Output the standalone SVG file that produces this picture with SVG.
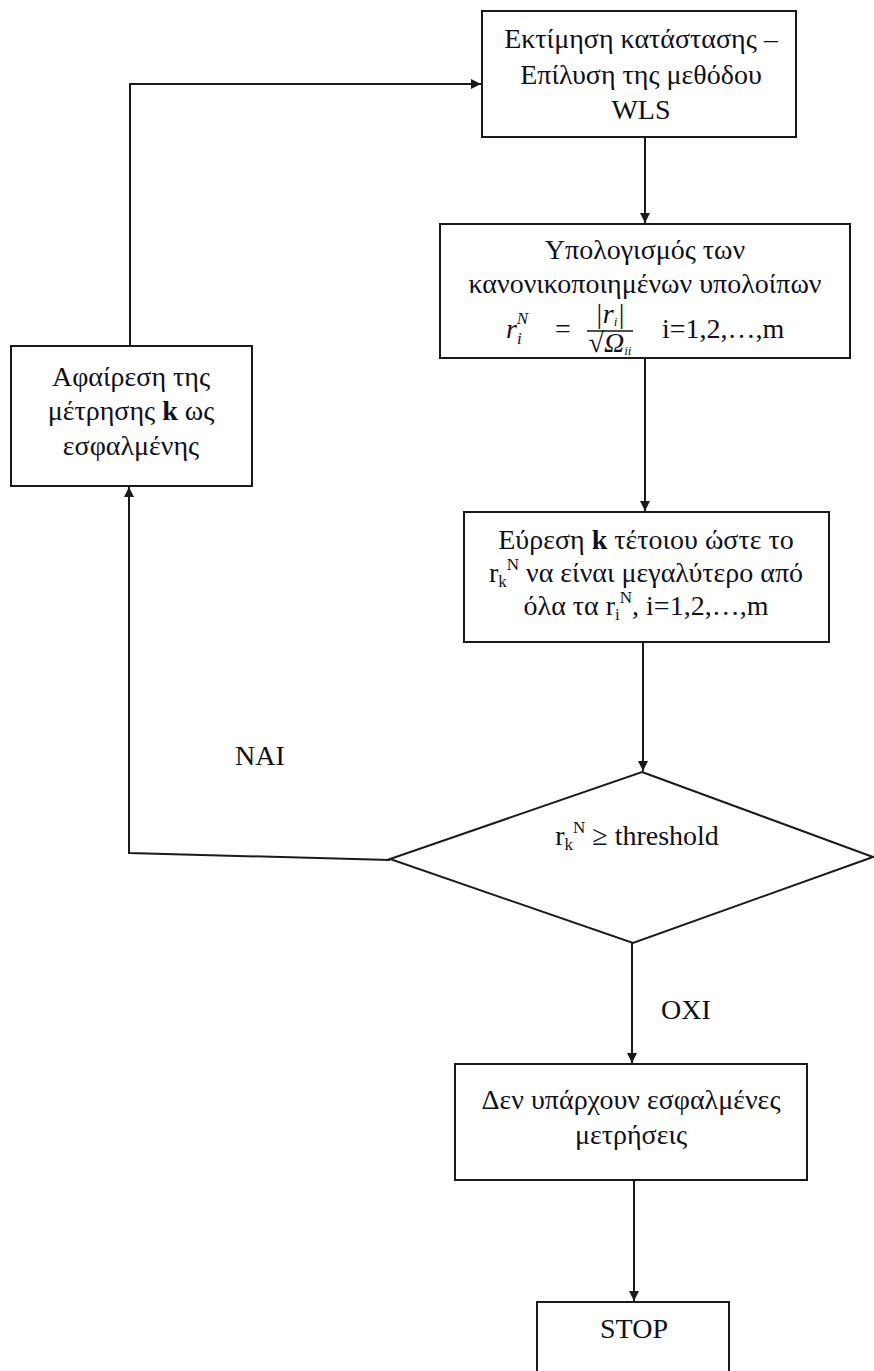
<svg xmlns="http://www.w3.org/2000/svg" width="874" height="1371" viewBox="0 0 874 1371">
  <style>
    .box { fill: #ffffff; stroke: #1a1a1a; stroke-width: 2; }
    .wire { fill: none; stroke: #1a1a1a; stroke-width: 2; }
    .t { font-family: "Liberation Serif", "DejaVu Serif", serif; font-size: 28px; fill: #10101c; text-anchor: middle; }
    .l { text-anchor: start; }
    .it { font-style: italic; }
    .sm { font-size: 17px; }
  </style>
  <defs>
    <marker id="arrow" viewBox="0 0 10 10" refX="10" refY="5" markerWidth="11" markerHeight="10" markerUnits="userSpaceOnUse" orient="auto">
      <path d="M0,0 L10,5 L0,10 z" fill="#1a1a1a"/>
    </marker>
  </defs>

  <!-- connectors -->
  <g id="connectors">
    <line class="wire" x1="645" y1="137" x2="645" y2="223" marker-end="url(#arrow)"/>
    <line class="wire" x1="645" y1="358" x2="645" y2="511" marker-end="url(#arrow)"/>
    <line class="wire" x1="643" y1="642" x2="643" y2="771" marker-end="url(#arrow)"/>
    <line class="wire" x1="632" y1="943" x2="632" y2="1063" marker-end="url(#arrow)"/>
    <line class="wire" x1="634" y1="1180" x2="634" y2="1301" marker-end="url(#arrow)"/>
    <!-- ΝΑΙ branch back to the removal step -->
    <polyline class="wire" points="390,860 129,853 129,487" marker-end="url(#arrow)"/>
    <!-- loop back to the estimation step -->
    <polyline class="wire" points="130,346 130,84 481,84" marker-end="url(#arrow)"/>
  </g>

  <g id="estimate">
    <rect class="box" x="482" y="11" width="314" height="126"/>
    <text class="t" x="641" y="48">Εκτίμηση κατάστασης –</text>
    <text class="t" x="641" y="84">Επίλυση της μεθόδου</text>
    <text class="t" x="641" y="119">WLS</text>
  </g>

  <g id="residuals">
    <rect class="box" x="440" y="224" width="410" height="134"/>
    <text class="t" x="645" y="259">Υπολογισμός των</text>
    <text class="t" x="645" y="293">κανονικοποιημένων υπολοίπων</text>
    <text class="t it l" x="506" y="338">r<tspan class="sm" dy="6">i</tspan><tspan class="sm" dx="-5" dy="-20">N</tspan></text>
    <text class="t" x="563" y="338">=</text>
    <text class="t it" x="610" y="323" font-size="19">|r<tspan font-size="13" dy="3">i</tspan><tspan dy="-3">|</tspan></text>
    <line x1="587" y1="331" x2="633" y2="331" stroke="#10101c" stroke-width="1.6"/>
    <text class="t it" x="610" y="352" font-size="19">√Ω<tspan font-size="13" dy="3">ii</tspan></text>
    <text class="t l" x="662" y="338">i=1,2,…,m</text>
  </g>

  <g id="find-max">
    <rect class="box" x="464" y="512" width="365" height="130"/>
    <text class="t" x="646" y="549">Εύρεση <tspan font-weight="bold">k</tspan> τέτοιου ώστε το</text>
    <text class="t" x="646" y="582">r<tspan class="sm" dy="5">k</tspan><tspan class="sm" dy="-17">N</tspan><tspan dy="12"> να είναι μεγαλύτερο από</tspan></text>
    <text class="t" x="646" y="615">όλα τα r<tspan class="sm" dy="5">i</tspan><tspan class="sm" dy="-17">N</tspan><tspan dy="12">, i=1,2,…,m</tspan></text>
  </g>

  <g id="threshold">
    <polygon class="box" points="642,772 873,857 633,943 390,859"/>
    <text class="t" x="637" y="845">r<tspan class="sm" dy="5">k</tspan><tspan class="sm" dy="-17">N</tspan><tspan dy="12"> ≥ threshold</tspan></text>
  </g>

  <g id="remove">
    <rect class="box" x="11" y="346" width="241" height="140"/>
    <text class="t" x="131" y="386" font-size="29">Αφαίρεση της</text>
    <text class="t" x="131" y="420" font-size="29">μέτρησης <tspan font-weight="bold">k</tspan> ως</text>
    <text class="t" x="131" y="455" font-size="29">εσφαλμένης</text>
  </g>

  <g id="labels">
    <text class="t" x="260" y="765">ΝΑΙ</text>
    <text class="t" x="686" y="1019">ΟΧΙ</text>
  </g>

  <g id="no-errors">
    <rect class="box" x="455" y="1064" width="352" height="116"/>
    <text class="t" x="631" y="1109">Δεν υπάρχουν εσφαλμένες</text>
    <text class="t" x="631" y="1144">μετρήσεις</text>
  </g>

  <g id="stop">
    <rect class="box" x="537" y="1302" width="192" height="80"/>
    <text class="t" x="634" y="1338">STOP</text>
  </g>
</svg>
